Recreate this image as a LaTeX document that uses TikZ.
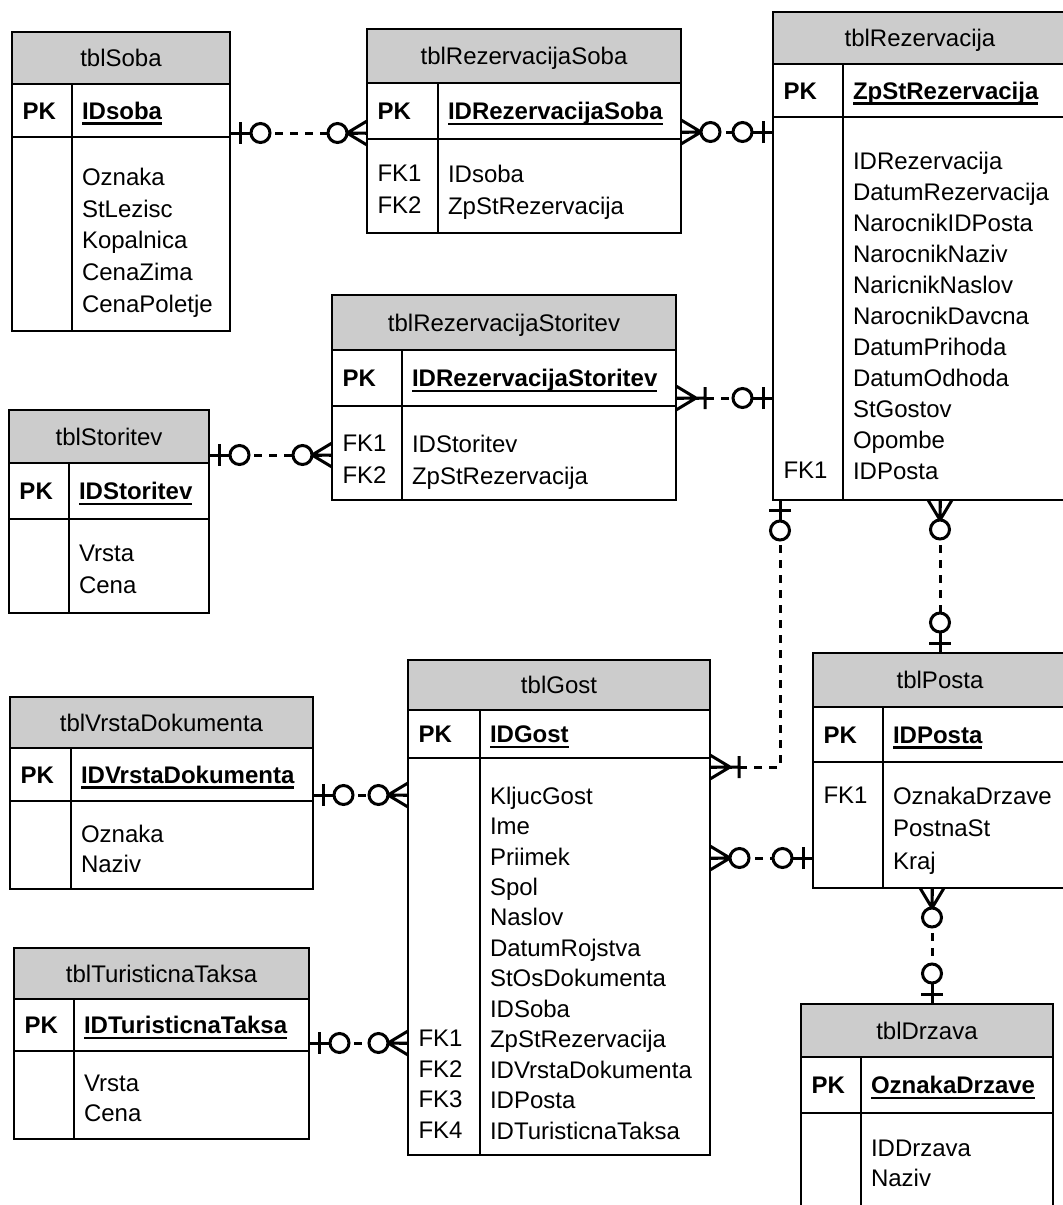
\documentclass[tikz,border=0pt]{standalone}
\usepackage{fontspec}
\setmainfont{Liberation Sans}
\usepackage{tikz}
\definecolor{hdrgray}{gray}{0.8}
\newcommand{\keyline}[1]{\setbox0\hbox{#1}\rlap{\rule[-5.5pt]{\wd0}{2.4pt}}\box0}

\begin{document}
\begin{tikzpicture}[x=1pt, y=-1pt,
  every node/.style={font=\fontsize{24}{31}\selectfont, inner sep=0pt, outer sep=0pt},
  tblframe/.style={draw, line width=2pt, anchor=north west},
  tblhead/.style={tblframe, fill=hdrgray, text height=17.2pt, text depth=0pt},
  cell/.style={anchor=west, text height=17.2pt, text depth=0pt},
  pkcell/.style={cell, font=\fontsize{24}{31}\selectfont\bfseries},
  fields/.style={anchor=north west, align=left, font=\fontsize{24}{#1}\selectfont},
  fields/.default=31,
  rule/.style={line width=2pt},
  rel/.style={line width=3pt, dash pattern=on 8pt off 7pt},
  zeroone/.pic={
    \draw[solid, line width=3pt] (0,0) -- (21,0) (10,-11) -- (10,11);
    \draw[solid, line width=3pt, fill=white] (30.5,0) circle[radius=9.5];
  },
  zeromany/.pic={
    \draw[solid, line width=3pt] (0,-12) -- (20,0) -- (0,12) (0,0) -- (20,0);
    \draw[solid, line width=3pt, fill=white] (29.5,0) circle[radius=9.5];
  },
  onemany/.pic={
    \draw[solid, line width=3pt] (0,-12) -- (20,0) -- (0,12) (0,0) -- (30,0) (29,-11) -- (29,11);
  }]
  \useasboundingbox (0,0) rectangle (1063,1205);
  \clip (0,0) rectangle (1063,1205);

  \node[tblframe, minimum width=218, minimum height=299] (soba) at (12,32) {};
  \node[tblhead, minimum width=218, minimum height=52] (soba-t) at (12,32) {tblSoba};
  \draw[rule] (12,137) -- (230,137) (72,84) -- (72,331);
  \node[pkcell] (soba-pk) at (22.5,110.5) {PK};
  \node[pkcell] (soba-key) at (82,110.5) {\keyline{IDsoba}};
  \node[fields=31.75] (soba-f) at (82,168) {Oznaka\\StLezisc\\Kopalnica\\CenaZima\\CenaPoletje};

  \node[tblframe, minimum width=314, minimum height=204] (rezsoba) at (367,29) {};
  \node[tblhead, minimum width=314, minimum height=54] (rezsoba-t) at (367,29) {tblRezervacijaSoba};
  \draw[rule] (367,139) -- (681,139) (438,83) -- (438,233);
  \node[pkcell] (rezsoba-pk) at (377.5,111) {PK};
  \node[pkcell] (rezsoba-key) at (448,111) {\keyline{IDRezervacijaSoba}};
  \node[fields=32] (rezsoba-fk) at (377.5,165) {FK1\\FK2};
  \node[fields=32] (rezsoba-f) at (448,165) {IDsoba\\ZpStRezervacija};

  \node[tblframe, minimum width=294, minimum height=488] (rez) at (773,12) {};
  \node[tblhead, minimum width=294, minimum height=52] (rez-t) at (773,12) {tblRezervacija};
  \draw[rule] (773,117) -- (1067,117) (843,64) -- (843,500);
  \node[pkcell] (rez-pk) at (783.5,90.5) {PK};
  \node[pkcell] (rez-key) at (853,90.5) {\keyline{ZpStRezervacija}};
  \node[fields] (rez-f) at (853,152) {IDRezervacija\\DatumRezervacija\\NarocnikIDPosta\\NarocnikNaziv\\NaricnikNaslov\\NarocnikDavcna\\DatumPrihoda\\DatumOdhoda\\StGostov\\Opombe\\IDPosta};
  \node[fields] (rez-fk) at (783.5,462) {FK1};

  \node[tblframe, minimum width=344, minimum height=205] (rezstor) at (332,295) {};
  \node[tblhead, minimum width=344, minimum height=55] (rezstor-t) at (332,295) {tblRezervacijaStoritev};
  \draw[rule] (332,406) -- (676,406) (402,350) -- (402,500);
  \node[pkcell] (rezstor-pk) at (342.5,378) {PK};
  \node[pkcell] (rezstor-key) at (412,378) {\keyline{IDRezervacijaStoritev}};
  \node[fields=32] (rezstor-fk) at (342.5,435) {FK1\\FK2};
  \node[fields=32] (rezstor-f) at (412,435) {IDStoritev\\ZpStRezervacija};

  \node[tblframe, minimum width=200, minimum height=203] (storitev) at (9,410) {};
  \node[tblhead, minimum width=200, minimum height=53] (storitev-t) at (9,410) {tblStoritev};
  \draw[rule] (9,519) -- (209,519) (69,463) -- (69,613);
  \node[pkcell] (storitev-pk) at (19.5,491) {PK};
  \node[pkcell] (storitev-key) at (79,491) {\keyline{IDStoritev}};
  \node[fields=32] (storitev-f) at (79,545) {Vrsta\\Cena};

  \node[tblframe, minimum width=303, minimum height=192] (vrsta) at (10,697) {};
  \node[tblhead, minimum width=303, minimum height=51] (vrsta-t) at (10,697) {tblVrstaDokumenta};
  \draw[rule] (10,801) -- (313,801) (71,748) -- (71,889);
  \node[pkcell] (vrsta-pk) at (20.5,774.5) {PK};
  \node[pkcell] (vrsta-key) at (81,774.5) {\keyline{IDVrstaDokumenta}};
  \node[fields=30] (vrsta-f) at (81,825) {Oznaka\\Naziv};

  \node[tblframe, minimum width=295, minimum height=191] (taksa) at (14,948) {};
  \node[tblhead, minimum width=295, minimum height=51] (taksa-t) at (14,948) {tblTuristicnaTaksa};
  \draw[rule] (14,1051) -- (309,1051) (74,999) -- (74,1139);
  \node[pkcell] (taksa-pk) at (24.5,1025) {PK};
  \node[pkcell] (taksa-key) at (84,1025) {\keyline{IDTuristicnaTaksa}};
  \node[fields=30] (taksa-f) at (84,1075) {Vrsta\\Cena};

  \node[tblframe, minimum width=302, minimum height=495] (gost) at (408,660) {};
  \node[tblhead, minimum width=302, minimum height=50] (gost-t) at (408,660) {tblGost};
  \draw[rule] (408,758) -- (710,758) (480,710) -- (480,1155);
  \node[pkcell] (gost-pk) at (418.5,734) {PK};
  \node[pkcell] (gost-key) at (490,734) {\keyline{IDGost}};
  \node[fields=30.45] (gost-f) at (490,786.7) {KljucGost\\Ime\\Priimek\\Spol\\Naslov\\DatumRojstva\\StOsDokumenta\\IDSoba\\ZpStRezervacija\\IDVrstaDokumenta\\IDPosta\\IDTuristicnaTaksa};
  \node[fields=30.45] (gost-fk) at (418.5,1030.3) {FK1\\FK2\\FK3\\FK4};

  \node[tblframe, minimum width=254, minimum height=235] (posta) at (813,653) {};
  \node[tblhead, minimum width=254, minimum height=54] (posta-t) at (813,653) {tblPosta};
  \draw[rule] (813,762) -- (1067,762) (883,707) -- (883,888);
  \node[pkcell] (posta-pk) at (823.5,734.5) {PK};
  \node[pkcell] (posta-key) at (893,734.5) {\keyline{IDPosta}};
  \node[fields=32.5] (posta-fk) at (823.5,787) {FK1};
  \node[fields=32.5] (posta-f) at (893,787) {OznakaDrzave\\PostnaSt\\Kraj};

  \node[tblframe, minimum width=252, minimum height=216] (drzava) at (801,1004) {};
  \node[tblhead, minimum width=252, minimum height=53] (drzava-t) at (801,1004) {tblDrzava};
  \draw[rule] (801,1113) -- (1053,1113) (861,1057) -- (861,1220);
  \node[pkcell] (drzava-pk) at (811.5,1085) {PK};
  \node[pkcell] (drzava-key) at (871,1085) {\keyline{OznakaDrzave}};
  \node[fields=30] (drzava-f) at (871,1140) {IDDrzava\\Naziv};

  \draw[rel] (soba.east |- 0,133) -- (rezsoba.west |- 0,133);
  \draw[rel] (rezsoba.east |- 0,132) -- (rez.west |- 0,132);
  \draw[rel] (storitev.east |- 0,455) -- (rezstor.west |- 0,455);
  \draw[rel] (rezstor.east |- 0,398) -- (rez.west |- 0,398);
  \draw[rel] (rez.south -| 780,0) |- (gost.east |- 0,767);
  \draw[rel] (rez.south -| 940,0) -- (posta.north -| 940,0);
  \draw[rel] (gost.east |- 0,858) -- (posta.west |- 0,858);
  \draw[rel] (vrsta.east |- 0,795) -- (gost.west |- 0,795);
  \draw[rel] (taksa.east |- 0,1043) -- (gost.west |- 0,1043);
  \draw[rel] (posta.south -| 932,0) -- (drzava.north -| 932,0);

  \pic at (soba.east |- 0,133) {zeroone};
  \pic[rotate=180] at (rezsoba.west |- 0,133) {zeromany};
  \pic at (rezsoba.east |- 0,132) {zeromany};
  \pic[rotate=180] at (rez.west |- 0,132) {zeroone};
  \pic at (storitev.east |- 0,455) {zeroone};
  \pic[rotate=180] at (rezstor.west |- 0,455) {zeromany};
  \pic at (rezstor.east |- 0,398) {onemany};
  \pic[rotate=180] at (rez.west |- 0,398) {zeroone};
  \pic[rotate=-90] at (rez.south -| 780,0) {zeroone};
  \pic at (gost.east |- 0,767) {onemany};
  \pic[rotate=-90] at (rez.south -| 940,0) {zeromany};
  \pic[rotate=90] at (posta.north -| 940,0) {zeroone};
  \pic at (gost.east |- 0,858) {zeromany};
  \pic[rotate=180] at (posta.west |- 0,858) {zeroone};
  \pic at (vrsta.east |- 0,795) {zeroone};
  \pic[rotate=180] at (gost.west |- 0,795) {zeromany};
  \pic at (taksa.east |- 0,1043) {zeroone};
  \pic[rotate=180] at (gost.west |- 0,1043) {zeromany};
  \pic[rotate=-90] at (posta.south -| 932,0) {zeromany};
  \pic[rotate=90] at (drzava.north -| 932,0) {zeroone};
\end{tikzpicture}
\end{document}
